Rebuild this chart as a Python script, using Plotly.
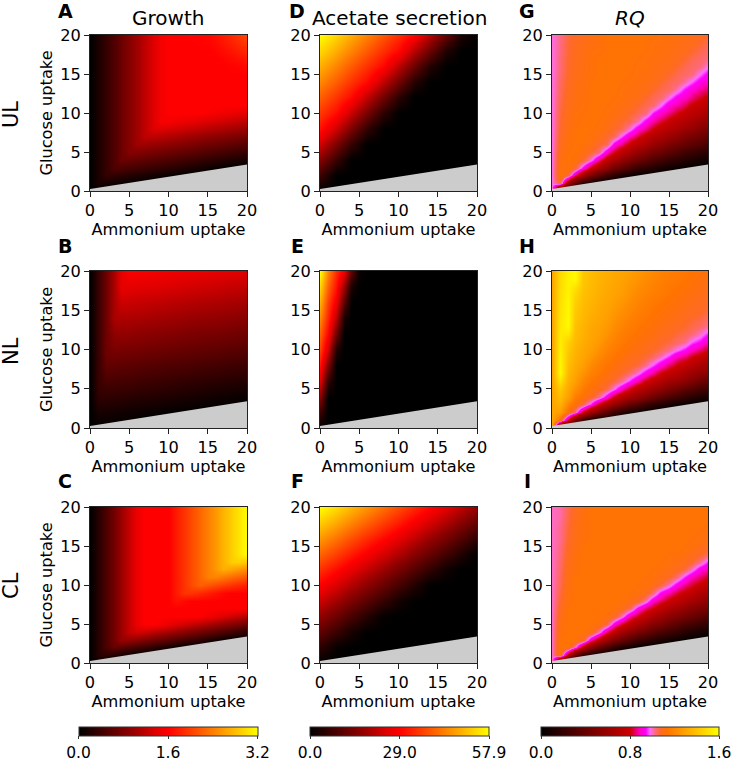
import plotly.graph_objects as go

W, H = 733, 762
FONT = "DejaVu Sans"
TICK = 16.2

x_even = [0, 2, 4, 6, 8, 10, 12, 14, 16, 18, 20]
x_unit = list(range(21))
x_wedge = [0, 1, 2, 3, 4, 5, 6, 8, 10, 12, 14, 16, 18, 20]
y_even = [0, 2, 4, 6, 8, 10, 12, 14, 16, 18, 20]
y_unit = list(range(21))
gray_x = [0, 20, 20, 0]
gray_y = [0.25, 3.4, 0, 0]
ticks = [0, 5, 10, 15, 20]

# Rows listed from glucose uptake 20 down to 0
growth_UL = [
    [0, .17, .34, .51, .68, .85, 1.02, 1.19, 1.36, 1.53, 1.6, 1.6, 1.6, 1.61, 1.62, 1.64, 1.7, 1.77, 1.85, 1.95, 2.05],
    [0, .17, .34, .51, .68, .85, 1.02, 1.19, 1.36, 1.53, 1.6, 1.6, 1.6, 1.6, 1.61, 1.62, 1.66, 1.72, 1.79, 1.87, 1.95],
    [0, .17, .34, .51, .68, .85, 1.02, 1.19, 1.36, 1.53, 1.6, 1.6, 1.6, 1.6, 1.6, 1.6, 1.62, 1.67, 1.72, 1.78, 1.85],
    [0, .17, .34, .51, .68, .85, 1.02, 1.19, 1.36, 1.53, 1.6, 1.6, 1.6, 1.6, 1.6, 1.6, 1.6, 1.62, 1.66, 1.7, 1.75],
    [0, .17, .34, .51, .68, .85, 1.02, 1.19, 1.36, 1.53, 1.6, 1.6, 1.6, 1.6, 1.6, 1.6, 1.6, 1.6, 1.61, 1.63, 1.66],
    [0, .17, .34, .51, .68, .85, 1.02, 1.19, 1.36, 1.53, 1.6, 1.6, 1.6, 1.6, 1.6, 1.6, 1.6, 1.6, 1.6, 1.6, 1.6],
    [0, .17, .34, .51, .68, .85, 1.02, 1.19, 1.36, 1.53, 1.6, 1.6, 1.6, 1.6, 1.6, 1.6, 1.6, 1.6, 1.6, 1.6, 1.6],
    [0, .17, .34, .51, .68, .85, 1.02, 1.19, 1.36, 1.53, 1.6, 1.6, 1.6, 1.6, 1.6, 1.6, 1.6, 1.6, 1.6, 1.6, 1.6],
    [0, .17, .34, .51, .68, .85, 1.02, 1.19, 1.36, 1.53, 1.6, 1.6, 1.6, 1.6, 1.6, 1.6, 1.6, 1.6, 1.6, 1.6, 1.6],
    [0, .17, .34, .51, .68, .85, 1.02, 1.19, 1.36, 1.53, 1.6, 1.6, 1.6, 1.6, 1.6, 1.6, 1.6, 1.6, 1.6, 1.6, 1.6],
    [0, .17, .34, .51, .68, .85, 1.02, 1.19, 1.36, 1.53, 1.6, 1.6, 1.6, 1.6, 1.6, 1.56, 1.53, 1.49, 1.46, 1.42, 1.39],
    [0, .17, .34, .51, .68, .85, 1.02, 1.19, 1.36, 1.57, 1.53, 1.5, 1.46, 1.43, 1.39, 1.35, 1.32, 1.28, 1.25, 1.21, 1.18],
    [0, .17, .34, .51, .68, .85, 1.02, 1.19, 1.36, 1.36, 1.32, 1.29, 1.25, 1.22, 1.18, 1.14, 1.11, 1.07, 1.04, 1.0, .97],
    [0, .17, .34, .51, .68, .85, 1.02, 1.19, 1.18, 1.15, 1.11, 1.08, 1.04, 1.01, .97, .93, .9, .86, .83, .79, .76],
    [0, .17, .34, .51, .68, .85, 1.02, 1.01, .97, .94, .9, .87, .83, .8, .76, .72, .69, .65, .62, .58, .55],
    [0, .17, .34, .51, .68, .85, .84, .8, .76, .73, .69, .66, .62, .59, .55, .51, .48, .44, .41, .37, .34],
    [0, .17, .34, .51, .68, .66, .63, .59, .55, .52, .48, .45, .41, .38, .34, .3, .27, .23, .2, .16, .13],
    [0, .17, .34, .51, .49, .45, .42, .38, .34, .31, .27, .24, .2, .17, .13, .09, .06, .02, 0, 0, 0],
    [0, .17, .34, .31, .28, .24, .21, .17, .13, .1, .06, .03, 0, 0, 0, 0, 0, 0, 0, 0, 0],
    [0, .17, .14, .1, .07, .03, 0, 0, 0, 0, 0, 0, 0, 0, 0, 0, 0, 0, 0, 0, 0],
    [0, 0, 0, 0, 0, 0, 0, 0, 0, 0, 0, 0, 0, 0, 0, 0, 0, 0, 0, 0, 0],
]
growth_NL = [
    [0, .355, .71, 1.065, 1.42, 1.57, 1.56, 1.53, 1.5, 1.47, 1.44, 1.42, 1.39, 1.36],
    [0, .355, .71, 1.065, 1.42, 1.4, 1.39, 1.37, 1.34, 1.31, 1.28, 1.25, 1.22, 1.2],
    [0, .355, .71, 1.065, 1.26, 1.25, 1.23, 1.2, 1.17, 1.14, 1.11, 1.09, 1.06, 1.03],
    [0, .355, .71, 1.065, 1.09, 1.08, 1.07, 1.04, 1.01, .98, .95, .93, .9, .87],
    [0, .355, .71, .91, .93, .92, .9, .87, .84, .81, .78, .76, .73, .7],
    [0, .355, .71, .77, .76, .75, .74, .71, .68, .65, .62, .6, .57, .54],
    [0, .355, .63, .61, .6, .59, .57, .54, .51, .49, .46, .43, .4, .38],
    [0, .355, .46, .45, .44, .43, .41, .38, .35, .32, .29, .27, .24, .21],
    [0, .3, .3, .29, .27, .26, .24, .22, .19, .16, .13, .1, .08, .05],
    [0, .15, .14, .12, .11, .09, .08, .05, .02, 0, 0, 0, 0, 0],
    [0, 0, 0, 0, 0, 0, 0, 0, 0, 0, 0, 0, 0, 0],
]
growth_CL = [
    [0, .245, .49, .735, .98, 1.225, 1.47, 1.6, 1.6, 1.6, 1.6, 1.76, 1.92, 2.08, 2.24, 2.4, 2.56, 2.72, 2.88, 3.04, 3.2],
    [0, .245, .49, .735, .98, 1.225, 1.47, 1.6, 1.6, 1.6, 1.6, 1.76, 1.92, 2.08, 2.24, 2.4, 2.56, 2.72, 2.88, 3.04, 3.2],
    [0, .245, .49, .735, .98, 1.225, 1.47, 1.6, 1.6, 1.6, 1.6, 1.76, 1.92, 2.08, 2.24, 2.4, 2.56, 2.72, 2.88, 3.04, 3.2],
    [0, .245, .49, .735, .98, 1.225, 1.47, 1.6, 1.6, 1.6, 1.6, 1.76, 1.92, 2.08, 2.24, 2.4, 2.56, 2.72, 2.88, 3.04, 3.2],
    [0, .245, .49, .735, .98, 1.225, 1.47, 1.6, 1.6, 1.6, 1.6, 1.76, 1.92, 2.08, 2.24, 2.4, 2.56, 2.72, 2.88, 3.04, 3.2],
    [0, .245, .49, .735, .98, 1.225, 1.47, 1.6, 1.6, 1.6, 1.6, 1.76, 1.92, 2.08, 2.24, 2.4, 2.56, 2.72, 2.88, 3.04, 3.2],
    [0, .245, .49, .735, .98, 1.225, 1.47, 1.6, 1.6, 1.6, 1.6, 1.76, 1.92, 2.08, 2.24, 2.4, 2.56, 2.72, 2.88, 3.04, 3.2],
    [0, .245, .49, .735, .98, 1.225, 1.47, 1.6, 1.6, 1.6, 1.6, 1.76, 1.92, 2.08, 2.24, 2.4, 2.56, 2.72, 2.88, 2.91, 2.84],
    [0, .245, .49, .735, .98, 1.225, 1.47, 1.6, 1.6, 1.6, 1.6, 1.76, 1.92, 2.08, 2.24, 2.4, 2.56, 2.7, 2.63, 2.56, 2.49],
    [0, .245, .49, .735, .98, 1.225, 1.47, 1.6, 1.6, 1.6, 1.6, 1.76, 1.92, 2.08, 2.24, 2.4, 2.42, 2.35, 2.27, 2.2, 2.13],
    [0, .245, .49, .735, .98, 1.225, 1.47, 1.6, 1.6, 1.6, 1.6, 1.76, 1.92, 2.08, 2.2, 2.13, 2.06, 1.99, 1.92, 1.85, 1.78],
    [0, .245, .49, .735, .98, 1.225, 1.47, 1.6, 1.6, 1.6, 1.6, 1.76, 1.92, 1.92, 1.85, 1.78, 1.71, 1.64, 1.6, 1.6, 1.6],
    [0, .245, .49, .735, .98, 1.225, 1.47, 1.6, 1.6, 1.6, 1.6, 1.71, 1.64, 1.6, 1.6, 1.6, 1.6, 1.6, 1.6, 1.6, 1.6],
    [0, .245, .49, .735, .98, 1.225, 1.47, 1.6, 1.6, 1.6, 1.6, 1.6, 1.6, 1.6, 1.6, 1.6, 1.6, 1.6, 1.6, 1.6, 1.58],
    [0, .245, .49, .735, .98, 1.225, 1.47, 1.6, 1.6, 1.6, 1.6, 1.6, 1.6, 1.6, 1.59, 1.52, 1.44, 1.37, 1.29, 1.22, 1.14],
    [0, .245, .49, .735, .98, 1.225, 1.47, 1.6, 1.6, 1.53, 1.45, 1.38, 1.3, 1.23, 1.15, 1.08, 1.0, .93, .85, .78, .7],
    [0, .245, .49, .735, .98, 1.225, 1.31, 1.24, 1.16, 1.09, 1.01, .94, .86, .79, .71, .64, .56, .49, .41, .34, .26],
    [0, .245, .49, .735, .98, .95, .87, .8, .72, .65, .57, .5, .42, .35, .27, .2, .12, .05, 0, 0, 0],
    [0, .245, .49, .66, .58, .51, .43, .36, .28, .21, .13, .06, 0, 0, 0, 0, 0, 0, 0, 0, 0],
    [0, .245, .29, .22, .14, .07, 0, 0, 0, 0, 0, 0, 0, 0, 0, 0, 0, 0, 0, 0, 0],
    [0, 0, 0, 0, 0, 0, 0, 0, 0, 0, 0, 0, 0, 0, 0, 0, 0, 0, 0, 0, 0],
]
acetate_UL = [
    [57.9, 53.2, 48.4, 43.6, 38.8, 34, 29.2, 20.5, 11.9, 3.3, 0],
    [53.4, 48.6, 43.8, 39, 34.2, 29.5, 20.9, 12.3, 3.7, 0, 0],
    [48.8, 44, 39.3, 34.5, 29.7, 21.3, 12.7, 4.1, 0, 0, 0],
    [44.3, 39.5, 34.7, 29.9, 21.7, 13.1, 4.5, 0, 0, 0, 0],
    [39.7, 34.9, 30.1, 22.1, 13.5, 4.9, 0, 0, 0, 0, 0],
    [35.2, 30.4, 22.6, 13.9, 5.3, 0, 0, 0, 0, 0, 0],
    [30.6, 23, 14.4, 5.7, 0, 0, 0, 0, 0, 0, 0],
    [23.4, 14.8, 6.2, 0, 0, 0, 0, 0, 0, 0, 0],
    [15.2, 6.6, 0, 0, 0, 0, 0, 0, 0, 0, 0],
    [7, 0, 0, 0, 0, 0, 0, 0, 0, 0, 0],
    [0, 0, 0, 0, 0, 0, 0, 0, 0, 0, 0],
]
acetate_NL = [
    [57.9, 44, 34, 27, 12, 1, 0, 0, 0, 0, 0, 0, 0, 0],
    [53, 40, 31, 18, 3, 0, 0, 0, 0, 0, 0, 0, 0, 0],
    [49, 36, 27, 11, 0, 0, 0, 0, 0, 0, 0, 0, 0, 0],
    [44.5, 33, 21, 3, 0, 0, 0, 0, 0, 0, 0, 0, 0, 0],
    [40, 29, 13, 0, 0, 0, 0, 0, 0, 0, 0, 0, 0, 0],
    [36, 23, 4, 0, 0, 0, 0, 0, 0, 0, 0, 0, 0, 0],
    [31, 15, 0, 0, 0, 0, 0, 0, 0, 0, 0, 0, 0, 0],
    [25, 6, 0, 0, 0, 0, 0, 0, 0, 0, 0, 0, 0, 0],
    [16, 0, 0, 0, 0, 0, 0, 0, 0, 0, 0, 0, 0, 0],
    [7, 0, 0, 0, 0, 0, 0, 0, 0, 0, 0, 0, 0, 0],
    [0, 0, 0, 0, 0, 0, 0, 0, 0, 0, 0, 0, 0, 0],
]
acetate_CL = [
    [57.9, 53.9, 49.8, 45.7, 41.7, 37.6, 33.6, 29.5, 25.5, 21.4, 17.3],
    [52, 48, 43.9, 39.8, 35.8, 31.7, 27.7, 23.6, 19.6, 15.5, 11.4],
    [46.2, 42.1, 38, 33.9, 29.9, 25.8, 21.8, 17.7, 13.7, 9.6, 5.5],
    [40.3, 36.2, 32.1, 28, 24, 19.9, 15.9, 11.8, 7.8, 3.7, 0],
    [34.4, 30.3, 26.2, 22.1, 18.1, 14, 10, 5.9, 1.9, 0, 0],
    [28.5, 24.4, 20.3, 16.2, 12.2, 8.1, 4.1, 0, 0, 0, 0],
    [22.6, 18.5, 14.4, 10.3, 6.3, 2.2, 0, 0, 0, 0, 0],
    [16.8, 12.7, 8.6, 4.5, .5, 0, 0, 0, 0, 0, 0],
    [10.9, 6.8, 2.7, 0, 0, 0, 0, 0, 0, 0, 0],
    [5, .9, 0, 0, 0, 0, 0, 0, 0, 0, 0],
    [0, 0, 0, 0, 0, 0, 0, 0, 0, 0, 0],
]

# RQ tables: one list per ammonium uptake 0..20, glucose uptake 0 up to 20
rq_UL_cols = [
    [.99, .99, .99, .99, .99, .99, .99, .99, .99, .99, .99, .99, .99, .99, .99, .99, .99, .99, .99, .99, .99],
    [.2, 1.07, 1.13, 1.12, 1.11, 1.10, 1.09, 1.08, 1.07, 1.065, 1.06, 1.055, 1.05, 1.045, 1.04, 1.035, 1.03, 1.03, 1.025, 1.025, 1.02],
    [0, .66, 1.07, 1.125, 1.13, 1.125, 1.12, 1.115, 1.11, 1.105, 1.10, 1.095, 1.09, 1.085, 1.08, 1.075, 1.07, 1.07, 1.065, 1.065, 1.06],
    [0, .36, .86, 1.07, 1.12, 1.13, 1.13, 1.13, 1.125, 1.12, 1.12, 1.115, 1.11, 1.11, 1.105, 1.10, 1.10, 1.095, 1.09, 1.085, 1.08],
    [0, .17, .66, .93, 1.07, 1.115, 1.125, 1.13, 1.13, 1.13, 1.125, 1.12, 1.12, 1.115, 1.115, 1.11, 1.11, 1.105, 1.105, 1.10, 1.10],
    [0, .06, .49, .78, .99, 1.07, 1.11, 1.12, 1.13, 1.13, 1.13, 1.13, 1.13, 1.13, 1.13, 1.12, 1.12, 1.12, 1.12, 1.11, 1.11],
    [0, 0, .36, .66, .86, 1.03, 1.07, 1.11, 1.12, 1.125, 1.13, 1.13, 1.13, 1.13, 1.13, 1.13, 1.13, 1.13, 1.12, 1.12, 1.12],
    [0, 0, .25, .55, .74, .9, 1.05, 1.07, 1.105, 1.115, 1.12, 1.125, 1.13, 1.13, 1.13, 1.13, 1.13, 1.13, 1.13, 1.13, 1.13],
    [0, 0, .17, .44, .66, .81, .93, 1.05, 1.07, 1.10, 1.115, 1.12, 1.125, 1.13, 1.13, 1.13, 1.13, 1.13, 1.13, 1.13, 1.13],
    [0, 0, .11, .36, .57, .73, .86, .97, 1.05, 1.07, 1.10, 1.11, 1.12, 1.12, 1.125, 1.13, 1.13, 1.13, 1.13, 1.13, 1.13],
    [0, 0, .06, .29, .49, .66, .78, .89, .99, 1.05, 1.07, 1.10, 1.11, 1.115, 1.12, 1.125, 1.13, 1.13, 1.13, 1.13, 1.13],
    [0, 0, .02, .21, .42, .58, .72, .83, .91, 1.01, 1.05, 1.07, 1.10, 1.11, 1.115, 1.12, 1.12, 1.125, 1.13, 1.13, 1.13],
    [0, 0, 0, .17, .36, .52, .66, .76, .86, .93, 1.03, 1.05, 1.07, 1.10, 1.11, 1.115, 1.12, 1.12, 1.125, 1.125, 1.13],
    [0, 0, 0, .13, .31, .45, .6, .7, .8, .88, .95, 1.04, 1.05, 1.07, 1.10, 1.105, 1.11, 1.115, 1.12, 1.12, 1.125],
    [0, 0, 0, .09, .25, .42, .55, .66, .74, .83, .9, .98, 1.04, 1.05, 1.07, 1.10, 1.105, 1.11, 1.115, 1.12, 1.12],
    [0, 0, 0, .06, .21, .36, .49, .61, .7, .78, .86, .91, .99, 1.04, 1.05, 1.07, 1.10, 1.105, 1.11, 1.115, 1.12],
    [0, 0, 0, .04, .17, .31, .44, .57, .66, .73, .81, .88, .93, 1.0, 1.04, 1.05, 1.07, 1.095, 1.10, 1.11, 1.115],
    [0, 0, 0, .02, .14, .25, .4, .5, .61, .7, .77, .84, .9, .94, 1.01, 1.04, 1.05, 1.07, 1.095, 1.10, 1.11],
    [0, 0, 0, 0, .11, .23, .36, .47, .57, .66, .73, .79, .86, .9, .97, 1.03, 1.04, 1.05, 1.07, 1.095, 1.10],
    [0, 0, 0, 0, .08, .19, .33, .43, .52, .61, .7, .76, .82, .87, .92, .98, 1.03, 1.04, 1.05, 1.07, 1.095],
    [0, 0, 0, 0, .06, .17, .27, .4, .49, .58, .66, .72, .78, .84, .89, .93, .99, 1.03, 1.04, 1.05, 1.07],
]
rq_NL_cols = [
    [1.3, 1.3, 1.3, 1.3, 1.3, 1.3, 1.3, 1.3, 1.3, 1.3, 1.3, 1.3, 1.3, 1.3, 1.3, 1.3, 1.3, 1.3, 1.3, 1.3, 1.3],
    [.2, 1.12, 1.28, 1.34, 1.38, 1.42, 1.5, 1.58, 1.57, 1.56, 1.55, 1.54, 1.53, 1.52, 1.51, 1.505, 1.5, 1.49, 1.485, 1.48, 1.47],
    [0, .8, 1.12, 1.2, 1.28, 1.31, 1.34, 1.36, 1.38, 1.4, 1.42, 1.44, 1.52, 1.58, 1.58, 1.575, 1.57, 1.565, 1.56, 1.555, 1.55],
    [0, .49, 1.02, 1.12, 1.17, 1.23, 1.28, 1.3, 1.32, 1.34, 1.35, 1.37, 1.38, 1.39, 1.41, 1.42, 1.44, 1.46, 1.5, 1.58, 1.58],
    [0, .24, .8, 1.06, 1.12, 1.16, 1.2, 1.24, 1.28, 1.3, 1.31, 1.325, 1.34, 1.35, 1.36, 1.37, 1.38, 1.39, 1.4, 1.41, 1.42],
    [0, .09, .63, .95, 1.08, 1.12, 1.15, 1.18, 1.21, 1.25, 1.28, 1.29, 1.3, 1.31, 1.325, 1.34, 1.35, 1.36, 1.37, 1.375, 1.38],
    [0, 0, .49, .8, 1.02, 1.09, 1.12, 1.15, 1.17, 1.2, 1.23, 1.26, 1.28, 1.29, 1.3, 1.31, 1.32, 1.33, 1.34, 1.345, 1.35],
    [0, 0, .36, .69, .91, 1.05, 1.09, 1.12, 1.14, 1.165, 1.185, 1.21, 1.24, 1.26, 1.28, 1.29, 1.3, 1.31, 1.315, 1.325, 1.33],
    [0, 0, .24, .59, .8, .98, 1.06, 1.1, 1.12, 1.14, 1.16, 1.18, 1.2, 1.22, 1.24, 1.26, 1.28, 1.29, 1.3, 1.305, 1.31],
    [0, 0, .15, .49, .71, .89, 1.02, 1.07, 1.1, 1.12, 1.135, 1.155, 1.17, 1.19, 1.21, 1.23, 1.25, 1.27, 1.28, 1.29, 1.295],
    [0, 0, .09, .4, .63, .8, .95, 1.04, 1.08, 1.1, 1.12, 1.13, 1.15, 1.165, 1.18, 1.2, 1.215, 1.23, 1.25, 1.265, 1.28],
    [0, 0, .04, .33, .57, .72, .88, .99, 1.06, 1.09, 1.105, 1.12, 1.13, 1.145, 1.16, 1.175, 1.19, 1.205, 1.22, 1.24, 1.25],
    [0, 0, 0, .24, .49, .66, .8, .92, 1.02, 1.06, 1.09, 1.105, 1.12, 1.13, 1.145, 1.16, 1.17, 1.185, 1.2, 1.215, 1.23],
    [0, 0, 0, .19, .43, .61, .75, .87, .97, 1.04, 1.07, 1.095, 1.11, 1.12, 1.13, 1.14, 1.155, 1.17, 1.18, 1.195, 1.21],
    [0, 0, 0, .13, .36, .55, .69, .8, .91, 1.0, 1.05, 1.075, 1.09, 1.11, 1.12, 1.13, 1.14, 1.155, 1.165, 1.175, 1.185],
    [0, 0, 0, .09, .3, .49, .63, .76, .85, .95, 1.02, 1.06, 1.08, 1.095, 1.11, 1.12, 1.13, 1.14, 1.15, 1.165, 1.17],
    [0, 0, 0, .06, .24, .43, .59, .71, .8, .88, .98, 1.04, 1.06, 1.085, 1.1, 1.11, 1.12, 1.13, 1.14, 1.15, 1.16],
    [0, 0, 0, .03, .2, .36, .55, .66, .76, .85, .94, 1.02, 1.05, 1.07, 1.085, 1.1, 1.11, 1.12, 1.13, 1.14, 1.15],
    [0, 0, 0, 0, .15, .33, .49, .61, .71, .8, .89, .97, 1.03, 1.055, 1.07, 1.09, 1.1, 1.11, 1.12, 1.13, 1.135],
    [0, 0, 0, 0, .12, .27, .43, .57, .66, .76, .85, .94, 1.0, 1.04, 1.06, 1.08, 1.09, 1.1, 1.11, 1.12, 1.13],
    [0, 0, 0, 0, .09, .24, .4, .55, .63, .72, .8, .88, .95, 1.02, 1.04, 1.06, 1.08, 1.09, 1.1, 1.11, 1.12],
]
rq_CL_cols = [
    [1.0, 1.0, 1.0, 1.0, 1.0, 1.0, 1.0, 1.0, 1.0, 1.0, 1.0, 1.0, 1.0, 1.0, 1.0, 1.0, 1.0, 1.0, 1.0, 1.0, 1.0],
    [.2, 1.13, 1.13, 1.13, 1.12, 1.11, 1.10, 1.085, 1.07, 1.06, 1.05, 1.045, 1.04, 1.035, 1.03, 1.025, 1.02, 1.02, 1.015, 1.01, 1.01],
    [0, .74, 1.13, 1.13, 1.13, 1.13, 1.13, 1.13, 1.12, 1.12, 1.11, 1.105, 1.10, 1.095, 1.085, 1.08, 1.07, 1.065, 1.06, 1.055, 1.05],
    [0, .41, 1.0, 1.13, 1.13, 1.13, 1.13, 1.13, 1.13, 1.13, 1.13, 1.13, 1.12, 1.12, 1.115, 1.11, 1.105, 1.10, 1.10, 1.095, 1.09],
    [0, .19, .74, 1.09, 1.13, 1.13, 1.13, 1.13, 1.13, 1.13, 1.13, 1.13, 1.13, 1.13, 1.13, 1.13, 1.12, 1.12, 1.12, 1.115, 1.11],
    [0, .07, .55, .88, 1.11, 1.13, 1.13, 1.13, 1.13, 1.13, 1.13, 1.13, 1.13, 1.13, 1.13, 1.13, 1.13, 1.13, 1.13, 1.13, 1.13],
    [0, 0, .41, .74, 1.0, 1.12, 1.13, 1.13, 1.13, 1.13, 1.13, 1.13, 1.13, 1.13, 1.13, 1.13, 1.13, 1.13, 1.13, 1.13, 1.13],
    [0, 0, .29, .61, .84, 1.06, 1.12, 1.13, 1.13, 1.13, 1.13, 1.13, 1.13, 1.13, 1.13, 1.13, 1.13, 1.13, 1.13, 1.13, 1.13],
    [0, 0, .19, .5, .74, .92, 1.09, 1.125, 1.13, 1.13, 1.13, 1.13, 1.13, 1.13, 1.13, 1.13, 1.13, 1.13, 1.13, 1.13, 1.13],
    [0, 0, .12, .41, .63, .82, 1.0, 1.10, 1.125, 1.13, 1.13, 1.13, 1.13, 1.13, 1.13, 1.13, 1.13, 1.13, 1.13, 1.13, 1.13],
    [0, 0, .07, .32, .55, .74, .88, 1.05, 1.11, 1.125, 1.13, 1.13, 1.13, 1.13, 1.13, 1.13, 1.13, 1.13, 1.13, 1.13, 1.13],
    [0, 0, .02, .24, .48, .65, .81, .93, 1.08, 1.115, 1.125, 1.13, 1.13, 1.13, 1.13, 1.13, 1.13, 1.13, 1.13, 1.13, 1.13],
    [0, 0, 0, .19, .41, .59, .74, .85, 1.0, 1.09, 1.12, 1.125, 1.13, 1.13, 1.13, 1.13, 1.13, 1.13, 1.13, 1.13, 1.13],
    [0, 0, 0, .14, .35, .51, .67, .8, .9, 1.03, 1.10, 1.12, 1.125, 1.13, 1.13, 1.13, 1.13, 1.13, 1.13, 1.13, 1.13],
    [0, 0, 0, .1, .29, .48, .61, .74, .84, .93, 1.06, 1.105, 1.12, 1.125, 1.13, 1.13, 1.13, 1.13, 1.13, 1.13, 1.13],
    [0, 0, 0, .07, .24, .41, .55, .68, .78, .88, 1.0, 1.08, 1.11, 1.12, 1.125, 1.13, 1.13, 1.13, 1.13, 1.13, 1.13],
    [0, 0, 0, .05, .19, .35, .5, .63, .74, .82, .92, 1.03, 1.09, 1.11, 1.125, 1.13, 1.13, 1.13, 1.13, 1.13, 1.13],
    [0, 0, 0, .02, .15, .29, .46, .57, .68, .78, .86, .95, 1.06, 1.095, 1.115, 1.125, 1.13, 1.13, 1.13, 1.13, 1.13],
    [0, 0, 0, 0, .12, .27, .41, .53, .63, .74, .82, .89, 1.0, 1.07, 1.10, 1.12, 1.125, 1.13, 1.13, 1.13, 1.13],
    [0, 0, 0, 0, .09, .22, .37, .49, .59, .68, .78, .85, .92, 1.02, 1.08, 1.105, 1.12, 1.125, 1.13, 1.13, 1.13],
    [0, 0, 0, 0, .07, .19, .32, .46, .55, .65, .74, .81, .88, .95, 1.05, 1.09, 1.11, 1.12, 1.125, 1.13, 1.13],
]

hot_scale = [[0, "rgb(0,0,0)"], [.3, "rgb(150,0,0)"], [.43, "rgb(225,0,0)"],
             [.5, "rgb(255,0,0)"], [1, "rgb(255,255,0)"]]
rq_scale = [[0, "rgb(0,0,0)"], [.5, "rgb(205,0,0)"], [.555, "rgb(255,0,190)"], [.59, "rgb(255,0,255)"],
            [.612, "rgb(255,110,255)"], [.64, "rgb(255,105,130)"], [.67, "rgb(255,105,40)"],
            [.71, "rgb(255,115,0)"], [1, "rgb(255,255,0)"]]

col_px = [(90, 247), (320, 477), (552, 708)]
row_px = [(35, 191), (271, 428), (507, 663)]
bar_px = [(78.5, 257), (310, 488.5), (541, 719)]

g_ticks = ([0, 1.6, 3.2], ["0.0", "1.6", "3.2"])
a_ticks = ([0, 29, 57.9], ["0.0", "29.0", "57.9"])
r_ticks = ([0, .8, 1.6], ["0.0", "0.8", "1.6"])
panels = [
    (0, 0, x_unit, y_unit, growth_UL[::-1], 3.2, hot_scale, g_ticks),
    (1, 0, x_wedge, y_even, growth_NL[::-1], 3.2, hot_scale, g_ticks),
    (2, 0, x_unit, y_unit, growth_CL[::-1], 3.2, hot_scale, g_ticks),
    (0, 1, x_even, y_even, acetate_UL[::-1], 57.9, hot_scale, a_ticks),
    (1, 1, x_wedge, y_even, acetate_NL[::-1], 57.9, hot_scale, a_ticks),
    (2, 1, x_even, y_even, acetate_CL[::-1], 57.9, hot_scale, a_ticks),
    (0, 2, x_unit, y_unit, [list(r) for r in zip(*rq_UL_cols)], 1.6, rq_scale, r_ticks),
    (1, 2, x_unit, y_unit, [list(r) for r in zip(*rq_NL_cols)], 1.6, rq_scale, r_ticks),
    (2, 2, x_unit, y_unit, [list(r) for r in zip(*rq_CL_cols)], 1.6, rq_scale, r_ticks),
]

fig = go.Figure()
layout = dict(width=W, height=H, margin=dict(l=0, r=0, t=0, b=0, autoexpand=False), paper_bgcolor="white",
              plot_bgcolor="white", font=dict(family=FONT, size=TICK, color="black"), showlegend=False)

for n, (row, col, xs, ys, z, zmax, scale, (tv, tt)) in enumerate(panels):
    suffix = "" if n == 0 else str(n + 1)
    hm = dict(x=xs, y=ys, z=z, zmin=0, zmax=zmax, colorscale=scale, zsmooth="best",
              xaxis="x" + suffix, yaxis="y" + suffix, hoverinfo="skip", showscale=row == 2)
    if row == 2:
        b0, b1 = bar_px[col]
        hm["colorbar"] = dict(orientation="h", x=b0 / W, xanchor="left", y=1 - 727 / H, yanchor="top",
                              lenmode="pixels", len=b1 - b0, thickness=9, thicknessmode="pixels",
                              xpad=0, ypad=0, tickmode="array", tickvals=tv, ticktext=tt, ticks="outside",
                              ticklen=3, tickwidth=1, tickcolor="#333", outlinecolor="#333", outlinewidth=1,
                              tickfont=dict(family=FONT, size=15.5, color="black"))
    fig.add_trace(go.Heatmap(**hm))
    fig.add_trace(go.Scatter(x=gray_x, y=gray_y, mode="lines", fill="toself", fillcolor="#cccccc",
                             line=dict(width=0), xaxis="x" + suffix, yaxis="y" + suffix, hoverinfo="skip"))
    x0, x1 = col_px[col]
    y0, y1 = row_px[row]
    axis = dict(range=[0, 20], tickmode="array", tickvals=ticks, ticks="outside", ticklen=5, tickwidth=1,
                tickcolor="#222", showline=True, linecolor="#222", linewidth=1, mirror=True, showgrid=False,
                zeroline=False, tickfont=dict(family=FONT, size=TICK, color="black"))
    layout["xaxis" + suffix] = dict(axis, domain=[x0 / W, x1 / W], anchor="y" + suffix,
                                    title=dict(text="Ammonium uptake", standoff=2, font=dict(family=FONT, size=TICK)))
    ydict = dict(axis, domain=[1 - y1 / H, 1 - y0 / H], anchor="x" + suffix)
    if col == 0:
        ydict["title"] = dict(text="Glucose uptake", standoff=3, font=dict(family=FONT, size=TICK))
    layout["yaxis" + suffix] = ydict

annotations = []
def text(px, py, s, size, angle=0, bold=False):
    annotations.append(dict(x=px / W, y=1 - py / H, xref="paper", yref="paper", text=f"<b>{s}</b>" if bold else s,
                            showarrow=False, xanchor="center", yanchor="middle", textangle=angle,
                            font=dict(family=FONT, size=size, color="black")))

for s, px, py in [("A", 65, 11), ("B", 65, 246), ("C", 65, 481), ("D", 297, 11), ("E", 297, 246), ("F", 297, 481),
                  ("G", 527, 11), ("H", 527, 246), ("I", 527, 481)]:
    text(px, py, s, 19, bold=True)
text(168, 18, "Growth", 20)
text(399, 18, "Acetate secretion", 20)
text(630, 18, "<i>RQ</i>", 20)
text(11, 115, "UL", 21, angle=-90)
text(11, 351, "NL", 21, angle=-90)
text(11, 586, "CL", 21, angle=-90)
layout["annotations"] = annotations

fig.update_layout(**layout)
fig.write_html("out.html", config={"displayModeBar": False}, post_script="document.body.style.margin='0';")
